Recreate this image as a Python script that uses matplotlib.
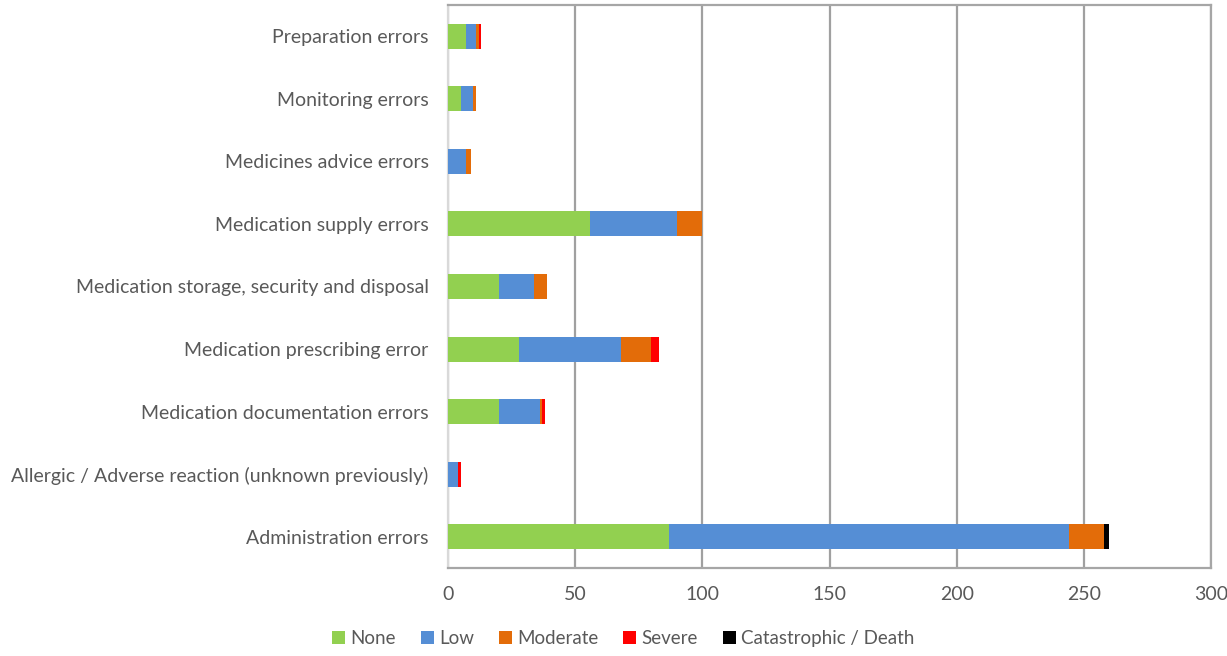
import matplotlib.pyplot as plt
import numpy as np

# Categories (bottom to top, as drawn)
categories = [
    'Administration errors',
    'Allergic / Adverse reaction (unknown previously)',
    'Medication documentation errors',
    'Medication prescribing error',
    'Medication storage, security and disposal',
    'Medication supply errors',
    'Medicines advice errors',
    'Monitoring errors',
    'Preparation errors',
]

none_vals = [87, 0, 20, 28, 20, 56, 0, 5, 7]
low_vals = [157, 4, 16, 40, 14, 34, 7, 5, 4]
moderate_vals = [14, 0, 1, 12, 5, 10, 2, 1, 1]
severe_vals = [0, 1, 1, 3, 0, 0, 0, 0, 1]
death_vals = [2, 0, 0, 0, 0, 0, 0, 0, 0]

series = [
    ('None', none_vals, '#92D050'),
    ('Low', low_vals, '#558ED5'),
    ('Moderate', moderate_vals, '#E36C09'),
    ('Severe', severe_vals, '#FF0000'),
    ('Catastrophic / Death', death_vals, '#000000'),
]

xticks = [0, 50, 100, 150, 200, 250, 300]

plt.rcParams['font.family'] = ['Lato', 'DejaVu Sans']
text_color = '#595959'

fig = plt.figure(figsize=(12.27, 6.56), dpi=100)
ax = fig.add_axes([448 / 1227, 88 / 656, 763 / 1227, 563 / 656])

y = np.arange(len(categories))
left = np.zeros(len(categories))
for name, vals, color in series:
    vals = np.array(vals, dtype=float)
    ax.barh(y, vals, left=left, height=0.4, color=color, label=name, zorder=3)
    left += vals

ax.set_xlim(0, 300)
ax.set_ylim(-0.5, len(categories) - 0.5)
ax.set_xticks(xticks)
ax.set_yticks(y)
ax.set_yticklabels(categories)
ax.tick_params(axis='both', length=0, colors=text_color, labelsize=14)
ax.tick_params(axis='x', pad=13)
ax.tick_params(axis='y', pad=14)

ax.grid(axis='x', color='#A0A0A0', linewidth=1.6, zorder=0)
ax.set_axisbelow(True)

for side in ['top', 'right', 'bottom']:
    ax.spines[side].set_color('#A6A6A6')
    ax.spines[side].set_linewidth(1.6)
ax.spines['left'].set_color('#D9D9D9')
ax.spines['left'].set_linewidth(1.6)

handles, labels = ax.get_legend_handles_labels()
fig.legend(handles, labels, loc='center', bbox_to_anchor=(0.508, 0.027), ncol=5,
           frameon=False, fontsize=13.5, handlelength=0.7, handleheight=0.7,
           handletextpad=0.3, columnspacing=1.3, labelcolor=text_color)

fig.savefig('out.png', dpi=100)
